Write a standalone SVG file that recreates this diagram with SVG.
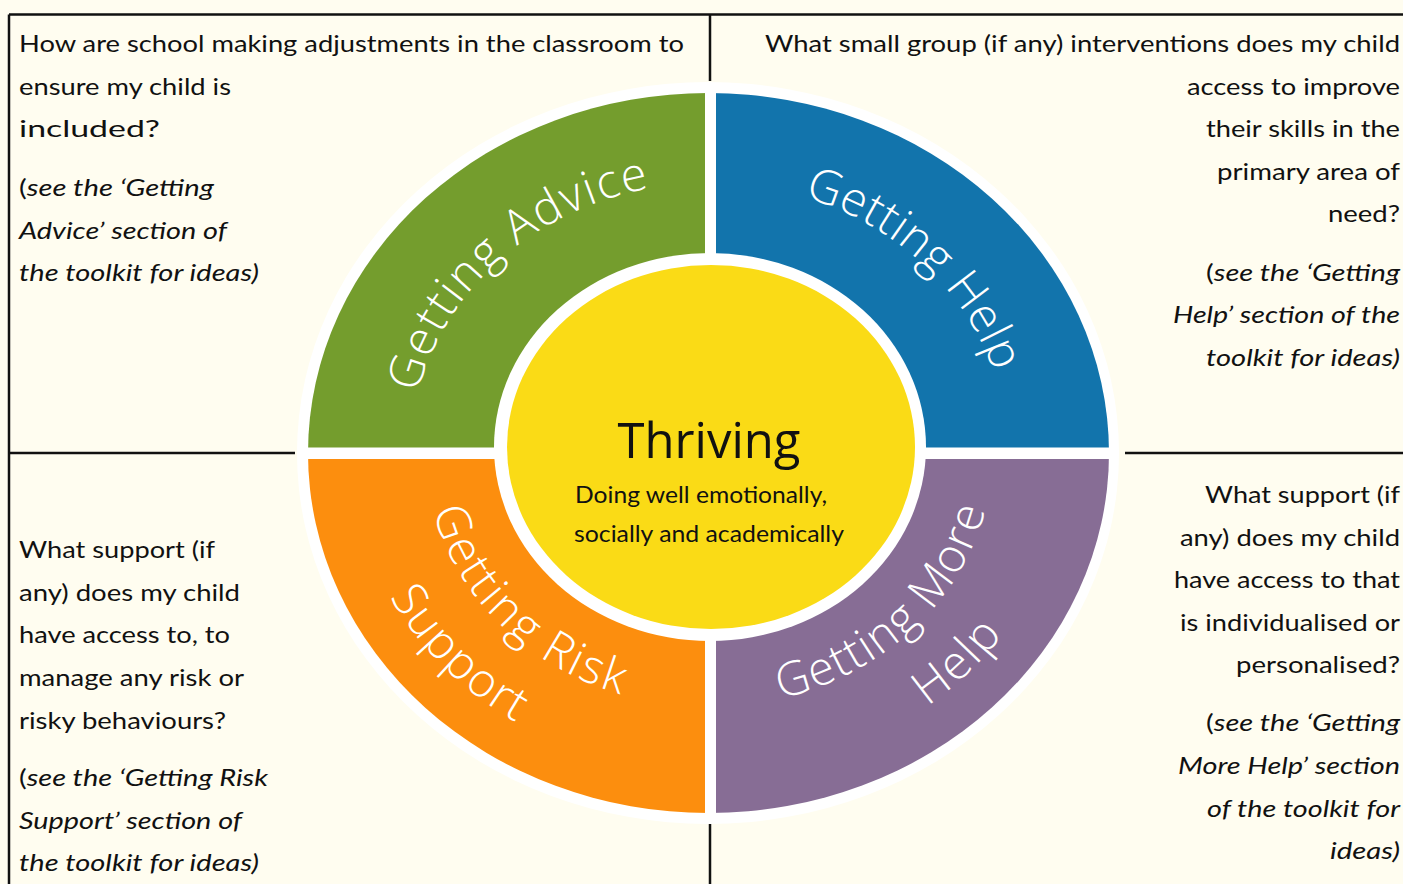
<svg xmlns="http://www.w3.org/2000/svg" width="1403" height="884" viewBox="0 0 1403 884">
<defs>
<style>
.bg{fill:#FFFDF0}
.frame{stroke:#111;stroke-width:2.5;fill:none}
.q{font-family:Lato,"Liberation Sans",sans-serif;font-size:24px;fill:#111}
.qi{font-style:italic}
.lab{font-family:"Open Sans","Noto Sans",sans-serif;font-size:47px;font-weight:300;fill:#fff}
.ctr{font-family:"Open Sans","Noto Sans",sans-serif;font-size:49px;fill:#111}
.sub{font-family:Lato,"Liberation Sans",sans-serif;font-size:23px;fill:#111}
</style>
<path id="pAdvice" d="M411,451 A298 268 0 0 1 709,183"/>
<path id="pHelp" d="M709,183 A298 268 0 0 1 1007,451"/>
<path id="pRisk1" d="M425,451 A284 256 0 0 0 709,707"/>
<path id="pRisk2" d="M351,451 A358 322 0 0 0 709,773"/>
<path id="pMore1" d="M709,707 A284 256 0 0 0 993,451"/>
<path id="pMore2" d="M709,773 A358 322 0 0 0 1067,451"/>
</defs>
<rect class="bg" x="0" y="0" width="1403" height="884"/>

<g id="connectors">
<path class="frame" d="M9,14.5 H1403 M9,14.5 V884 M710,14.5 V81 M710,824 V884 M9,453 H295 M1125,453 H1403"/>
</g>

<g id="wheel-base">
<ellipse cx="708" cy="453" rx="411" ry="371" fill="#fff"/>
</g>

<g id="getting-advice">
<path d="M709,453 H308 A400 360 0 0 1 709,93 Z" fill="#749D2D"/>
<text class="lab" letter-spacing="1.8"><textPath href="#pAdvice" startOffset="50%" text-anchor="middle">Getting Advice</textPath></text>
</g>
<g id="getting-help">
<path d="M709,453 V93 A400 360 0 0 1 1109,453 Z" fill="#1274AC"/>
<text class="lab" letter-spacing="0.3"><textPath href="#pHelp" startOffset="51.8%" text-anchor="middle">Getting Help</textPath></text>
</g>
<g id="getting-risk-support">
<path d="M709,453 H308 A400 360 0 0 0 709,813 Z" fill="#FC8E0E"/>
<text class="lab" letter-spacing="2.2"><textPath href="#pRisk1" startOffset="46.8%" text-anchor="middle">Getting Risk</textPath></text>
<text class="lab" letter-spacing="1.5"><textPath href="#pRisk2" startOffset="45.5%" text-anchor="middle">Support</textPath></text>
</g>
<g id="getting-more-help">
<path d="M709,453 V813 A400 360 0 0 0 1109,453 Z" fill="#876D95"/>
<text class="lab" letter-spacing="1.3"><textPath href="#pMore1" startOffset="51.7%" text-anchor="middle">Getting More</textPath></text>
<text class="lab" letter-spacing="2"><textPath href="#pMore2" startOffset="53.3%" text-anchor="middle">Help</textPath></text>
</g>

<g id="gaps" fill="#fff">
<rect x="705" y="85" width="11" height="736"/>
<rect x="300" y="447.5" width="816" height="11.5"/>
</g>

<g id="thriving">
<ellipse cx="710" cy="447" rx="216" ry="194" fill="#fff"/>
<ellipse cx="711" cy="447" rx="204" ry="182" fill="#FADB16"/>
<text class="ctr" x="709" y="458" text-anchor="middle">Thriving</text>
<text class="sub" x="575" y="503" textLength="252" lengthAdjust="spacingAndGlyphs">Doing well emotionally,</text>
<text class="sub" x="574" y="542" textLength="270" lengthAdjust="spacingAndGlyphs">socially and academically</text>
</g>

<g id="text-top-left" class="q">
<text x="19" y="52" textLength="665" lengthAdjust="spacingAndGlyphs">How are school making adjustments in the classroom to</text>
<text x="19" y="95" textLength="212" lengthAdjust="spacingAndGlyphs">ensure my child is</text>
<text x="19" y="137" textLength="141" lengthAdjust="spacingAndGlyphs">included?</text>
<text x="19" y="196" textLength="195" lengthAdjust="spacingAndGlyphs">(<tspan class="qi">see the ‘Getting</tspan></text>
<text x="19" y="239" class="qi" textLength="208" lengthAdjust="spacingAndGlyphs">Advice’ section of</text>
<text x="19" y="281" class="qi" textLength="240" lengthAdjust="spacingAndGlyphs">the toolkit for ideas)</text>
</g>

<g id="text-top-right" class="q" text-anchor="end">
<text x="1400" y="52" textLength="635" lengthAdjust="spacingAndGlyphs">What small group (if any) interventions does my child</text>
<text x="1400" y="95" textLength="213" lengthAdjust="spacingAndGlyphs">access to improve</text>
<text x="1400" y="137" textLength="194" lengthAdjust="spacingAndGlyphs">their skills in the</text>
<text x="1400" y="180" textLength="183" lengthAdjust="spacingAndGlyphs">primary area of</text>
<text x="1400" y="222" textLength="72" lengthAdjust="spacingAndGlyphs">need?</text>
<text x="1400" y="281" textLength="194" lengthAdjust="spacingAndGlyphs">(<tspan class="qi">see the ‘Getting</tspan></text>
<text x="1400" y="323" class="qi" textLength="227" lengthAdjust="spacingAndGlyphs">Help’ section of the</text>
<text x="1400" y="366" class="qi" textLength="194" lengthAdjust="spacingAndGlyphs">toolkit for ideas)</text>
</g>

<g id="text-bottom-left" class="q">
<text x="19" y="558" textLength="196" lengthAdjust="spacingAndGlyphs">What support (if</text>
<text x="19" y="601" textLength="221" lengthAdjust="spacingAndGlyphs">any) does my child</text>
<text x="19" y="643" textLength="211" lengthAdjust="spacingAndGlyphs">have access to, to</text>
<text x="19" y="686" textLength="225" lengthAdjust="spacingAndGlyphs">manage any risk or</text>
<text x="19" y="729" textLength="207" lengthAdjust="spacingAndGlyphs">risky behaviours?</text>
<text x="19" y="786" textLength="249" lengthAdjust="spacingAndGlyphs">(<tspan class="qi">see the ‘Getting Risk</tspan></text>
<text x="19" y="829" class="qi" textLength="223" lengthAdjust="spacingAndGlyphs">Support’ section of</text>
<text x="19" y="871" class="qi" textLength="240" lengthAdjust="spacingAndGlyphs">the toolkit for ideas)</text>
</g>

<g id="text-bottom-right" class="q" text-anchor="end">
<text x="1400" y="503" textLength="195" lengthAdjust="spacingAndGlyphs">What support (if</text>
<text x="1400" y="546" textLength="220" lengthAdjust="spacingAndGlyphs">any) does my child</text>
<text x="1400" y="588" textLength="226" lengthAdjust="spacingAndGlyphs">have access to that</text>
<text x="1400" y="631" textLength="220" lengthAdjust="spacingAndGlyphs">is individualised or</text>
<text x="1400" y="673" textLength="164" lengthAdjust="spacingAndGlyphs">personalised?</text>
<text x="1400" y="731" textLength="194" lengthAdjust="spacingAndGlyphs">(<tspan class="qi">see the ‘Getting</tspan></text>
<text x="1400" y="774" class="qi" textLength="222" lengthAdjust="spacingAndGlyphs">More Help’ section</text>
<text x="1400" y="817" class="qi" textLength="193" lengthAdjust="spacingAndGlyphs">of the toolkit for</text>
<text x="1400" y="859" class="qi" textLength="70" lengthAdjust="spacingAndGlyphs">ideas)</text>
</g>
</svg>
